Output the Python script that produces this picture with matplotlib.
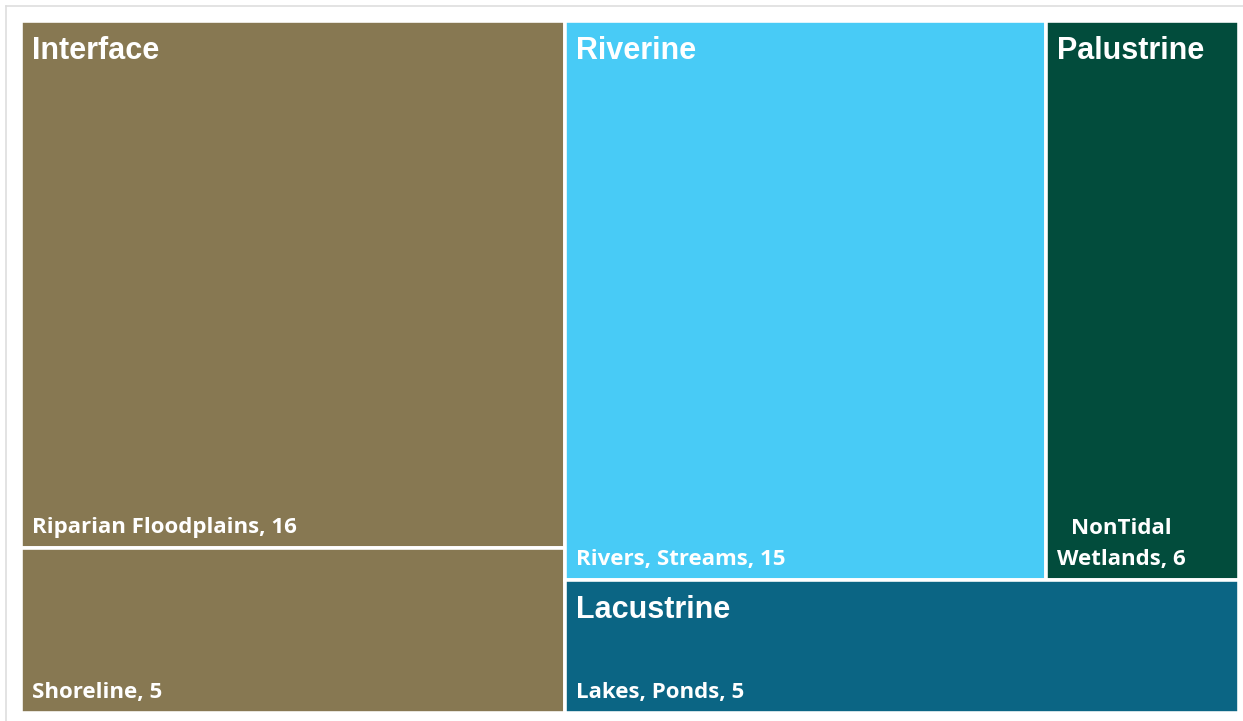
import matplotlib
matplotlib.use("Agg")
import matplotlib.pyplot as plt
from matplotlib.patches import Rectangle
from matplotlib.lines import Line2D

# data
groups = ["Interface", "Riverine", "Palustrine", "Lacustrine"]
group_colors = ["#877852", "#48CBF6", "#024C3C", "#0B6584"]
leaf_labels = ["Riparian Floodplains", "Shoreline", "Rivers, Streams",
               "NonTidal\nWetlands", "Lakes, Ponds"]
leaf_values = [16, 5, 15, 6, 5]
leaf_groups = ["Interface", "Interface", "Riverine", "Palustrine", "Lacustrine"]

W, H = 1243, 721
fig = plt.figure(figsize=(W / 100, H / 100), dpi=100)
ax = fig.add_axes([0, 0, 1, 1])
ax.set_xlim(0, W)
ax.set_ylim(H, 0)
ax.axis("off")

# faint frame of the original screenshot
fig.add_artist(Line2D([6 / W, 1], [1 - 6 / H, 1 - 6 / H], color="#dedede", lw=1.2))
fig.add_artist(Line2D([6 / W, 6 / W], [0, 1 - 6 / H], color="#dedede", lw=1.2))

gsum = {g: sum(v for v, p in zip(leaf_values, leaf_groups) if p == g) for g in groups}
total = sum(gsum.values())

# layout: first group is a column, the rest are split into a top row and a bottom band
gap_px = 3.6
x0, y0, x1, y1 = 23 - gap_px / 2, 23 - gap_px / 2, 1237 + gap_px / 2, 711 + gap_px / 2
bw, bh = x1 - x0, y1 - y0
grect = {}
wi = bw * gsum[groups[0]] / total
grect[groups[0]] = (x0, y0, wi, bh)
rest = total - gsum[groups[0]]
top = gsum[groups[1]] + gsum[groups[2]]
ht = bh * top / rest
rw = bw - wi
w1 = rw * gsum[groups[1]] / top
grect[groups[1]] = (x0 + wi, y0, w1, ht)
grect[groups[2]] = (x0 + wi + w1, y0, rw - w1, ht)
grect[groups[3]] = (x0 + wi, y0 + ht, rw, bh - ht)

gap = gap_px * 72 / 100
leaf_font = dict(family="Open Sans", weight="bold", size=16, color="white")
for g, c in zip(groups, group_colors):
    gx, gy, gw, gh = grect[g]
    items = [(l, v) for l, v, p in zip(leaf_labels, leaf_values, leaf_groups) if p == g]
    yy = gy
    for lab, v in items:
        lh = gh * v / gsum[g]
        ax.add_patch(Rectangle((gx, yy), gw, lh, facecolor=c, edgecolor="white", lw=gap))
        txt = f"{lab}, {v}"
        ax.text(gx + 11, yy + lh - 15, txt, ha="left", va="baseline",
                multialignment="center", linespacing=1.6, **leaf_font)
        yy += lh
    ax.text(gx + 11, gy + 38, g, ha="left", va="baseline", family="Liberation Sans",
            weight="bold", size=22, color="white")

fig.savefig("out.png", dpi=100, facecolor="white")
